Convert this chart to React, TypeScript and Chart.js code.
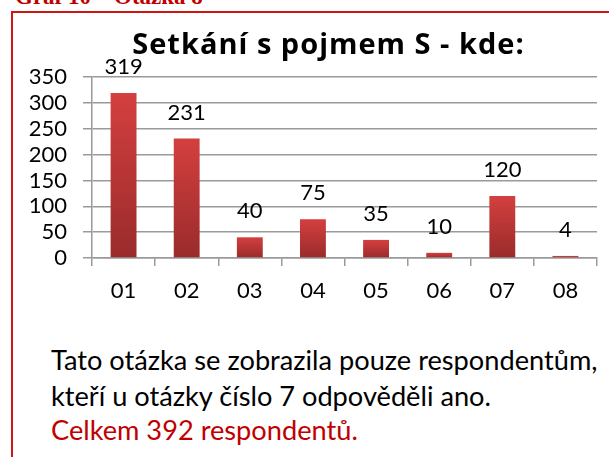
import React, { useEffect, useRef } from "react";
import { Chart, registerables } from "chart.js";

Chart.register(...registerables);

const header = "Graf 10 – Otázka 8";
const title = "Setkání s pojmem S - kde:";
const categories = ["01", "02", "03", "04", "05", "06", "07", "08"];
const values = [319, 231, 40, 75, 35, 10, 120, 4];
const yMin = 0;
const yMax = 350;
const yStep = 50;
const noteLines = [
  "Tato otázka se zobrazila pouze respondentům,",
  "kteří u otázky číslo 7 odpověděli ano.",
];
const totalLine = "Celkem 392 respondentů.";

const FONT = "Lato, 'Open Sans', sans-serif";

const barLabels = {
  id: "barLabels",
  afterDatasetsDraw(chart: any) {
    const ctx = chart.ctx;
    const meta = chart.getDatasetMeta(0);
    ctx.save();
    ctx.font = `22px ${FONT}`;
    ctx.fillStyle = "#000";
    ctx.textAlign = "center";
    ctx.textBaseline = "middle";
    meta.data.forEach((bar: any, i: number) => {
      ctx.fillText(String(values[i]), bar.x, bar.y - 26);
    });
    ctx.restore();
  },
};

const lineStyle = (top: number, color: string): React.CSSProperties => ({
  position: "absolute",
  left: 51,
  top,
  font: `27.2px ${FONT}`,
  lineHeight: "27px",
  color,
  whiteSpace: "nowrap",
});

export default function App() {
  const ref = useRef<HTMLCanvasElement | null>(null);

  useEffect(() => {
    document.body.style.margin = "0";
    const canvas = ref.current;
    if (!canvas) return;
    const chart = new Chart(canvas, {
      type: "bar",
      data: {
        labels: categories,
        datasets: [
          {
            data: values,
            barPercentage: 0.41,
            categoryPercentage: 1,
            backgroundColor: (c: any) => {
              const ch = c.chart;
              const { ctx, chartArea, scales } = ch;
              if (!chartArea || c.dataIndex === undefined || !scales.y) return "#c03535";
              const top = scales.y.getPixelForValue(values[c.dataIndex]);
              const bottom = scales.y.getPixelForValue(0);
              const g = ctx.createLinearGradient(0, top, 0, bottom + 0.01);
              g.addColorStop(0, "#d43f3f");
              g.addColorStop(1, "#9a2b2b");
              return g;
            },
            borderWidth: 0,
          },
        ],
      },
      options: {
        responsive: false,
        animation: false,
        layout: { padding: { left: 0, right: 12, top: 77, bottom: 0 } },
        plugins: {
          legend: { display: false },
          tooltip: { enabled: false },
          title: { display: false },
        },
        scales: {
          x: {
            afterFit: (s: any) => {
              s.height = 62;
            },
            grid: {
              offset: true,
              drawOnChartArea: false,
              drawTicks: true,
              tickLength: 8,
              color: "#9a9a9a",
              lineWidth: 1.5,
            },
            border: { color: "#9a9a9a", width: 1.5 },
            ticks: {
              color: "#000",
              font: { family: FONT, size: 22 },
              padding: 12,
              maxRotation: 0,
              autoSkip: false,
            },
          },
          y: {
            min: yMin,
            max: yMax,
            afterFit: (s: any) => {
              s.width = 92;
            },
            grid: {
              color: "#9a9a9a",
              lineWidth: 1.5,
              tickLength: 9,
            },
            border: { color: "#9a9a9a", width: 1.5 },
            ticks: {
              stepSize: yStep,
              color: "#000",
              font: { family: FONT, size: 22 },
              padding: 16,
              autoSkip: false,
            },
          },
        },
      },
      plugins: [barLabels],
    });
    return () => chart.destroy();
  }, []);

  return (
    <div
      style={{
        position: "relative",
        width: 609,
        height: 457,
        overflow: "hidden",
        background: "#fff",
      }}
    >
      <div
        style={{
          position: "absolute",
          left: 15,
          top: -15,
          font: "bold 23px 'Liberation Serif', serif",
          lineHeight: "23px",
          color: "#c00000",
          whiteSpace: "nowrap",
        }}
      >
        {header}
      </div>
      <div
        style={{
          position: "absolute",
          left: 11,
          top: 11,
          width: 620,
          height: 470,
          borderTop: "2px solid #d01515",
          borderLeft: "2px solid #d01515",
          boxSizing: "border-box",
        }}
      />
      <canvas
        ref={ref}
        width={609}
        height={320}
        style={{ position: "absolute", left: 0, top: 0, width: 609, height: 320 }}
      />
      <div
        style={{
          position: "absolute",
          left: 0,
          width: 657,
          top: 28,
          textAlign: "center",
          font: "bold 29px 'Open Sans', sans-serif",
          letterSpacing: "1px",
          lineHeight: "29px",
          color: "#000",
          whiteSpace: "nowrap",
        }}
      >
        {title}
      </div>
      <div style={lineStyle(346, "#000")}>{noteLines[0]}</div>
      <div style={lineStyle(382, "#000")}>{noteLines[1]}</div>
      <div style={lineStyle(416, "#c00000")}>{totalLine}</div>
    </div>
  );
}
